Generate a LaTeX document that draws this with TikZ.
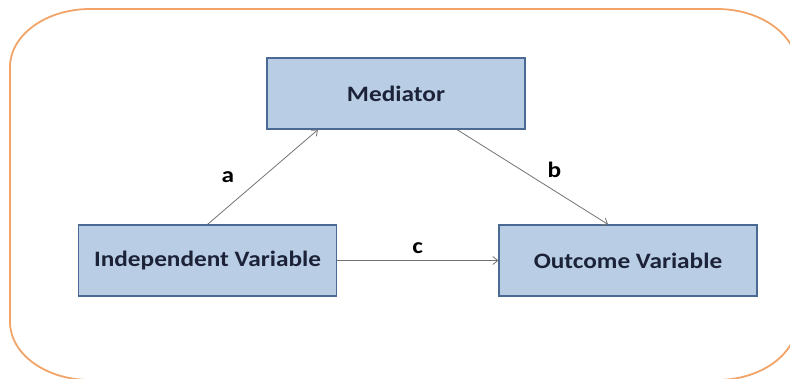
\documentclass[tikz,border=0pt]{standalone}
\usepackage{fontspec}
\setmainfont{Carlito}[FakeStretch=1.15]
\usepackage{tikz}
\usetikzlibrary{positioning}
\usetikzlibrary{arrows.meta}
\usepackage{xcolor}
\definecolor{boxfill}{HTML}{B9CDE5}
\definecolor{boxline}{HTML}{4A6A94}
\definecolor{boxtext}{HTML}{1C2338}
\definecolor{frameorange}{HTML}{F2A468}

\begin{document}
\begin{tikzpicture}[x=1pt, y=-1pt,
  var/.style={draw=boxline, line width=1.2pt, fill=boxfill, minimum width=258pt,
    minimum height=71pt, inner sep=0pt, text=boxtext, font=\bfseries\fontsize{22}{26}\selectfont},
  link/.style={draw=black!55, line width=0.8pt, -{Straight Barb[length=5pt, width=8pt]}},
  lbl/.style={text=black, font=\bfseries\fontsize{22}{26}\selectfont}]
  \useasboundingbox (0,0) rectangle (790,378);
  % frame with wide corners
  \draw[frameorange, line width=1.8pt] (90,9) -- (717,9)
    .. controls (761,9) and (797,35) .. (797,67) -- (797,322)
    .. controls (797,354) and (761,380) .. (717,380) -- (90,380)
    .. controls (46,380) and (10,354) .. (10,322) -- (10,67)
    .. controls (10,35) and (46,9) .. (90,9) -- cycle;
  \node[var] (med) at (396,93.5) {Mediator};
  \node[var] (iv) at (207.5,260.5) {Independent Variable};
  \node[var] (out) at (628,260.5) {Outcome Variable};
  \draw[link] (iv.north) -- ([xshift=-78pt]med.south)
    node[lbl, midway, xshift=-35pt] (la) {a};
  \draw[link] ([xshift=61pt]med.south) -- ([xshift=-20pt]out.north)
    node[lbl, midway, xshift=22pt, yshift=7pt] (lb) {b};
  \draw[link] (iv.east) -- (out.west)
    node[lbl, midway, yshift=12pt] (lc) {c};
\end{tikzpicture}
\end{document}
